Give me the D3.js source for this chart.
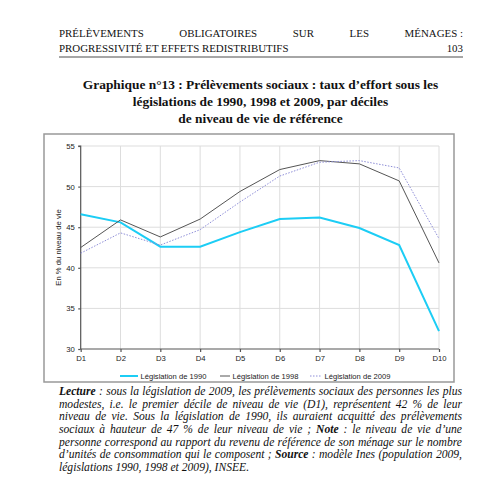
<!DOCTYPE html>
<html>
<head>
<meta charset="utf-8">
<script src="https://cdn.jsdelivr.net/npm/d3@7"></script>
<style>
  body { margin: 0; background: #fff; }
  svg { display: block; }
</style>
</head>
<body>
<div id="chart"></div>
<script>
// data
const deciles = ["D1", "D2", "D3", "D4", "D5", "D6", "D7", "D8", "D9", "D10"];
const leg1990 = [46.6, 45.6, 42.6, 42.6, 44.4, 46.0, 46.2, 44.9, 42.8, 32.2];
const leg1998 = [42.5, 45.9, 43.8, 46.0, 49.4, 52.1, 53.2, 52.8, 50.7, 40.6];
const leg2009 = [41.8, 44.3, 42.8, 44.7, 48.1, 51.3, 53.0, 53.2, 52.3, 43.6];
const yTicks = [30, 35, 40, 45, 50, 55];

const seriesNames = ["Législation de 1990", "Législation de 1998", "Législation de 2009"];
const seriesValues = [leg1990, leg1998, leg2009];

const titleLines = [
  "Graphique n°13 : Prélèvements sociaux : taux d’effort sous les",
  "législations de 1990, 1998 et 2009, par déciles",
  "de niveau de vie de référence"
];
const headerLine1 = ["PRÉLÈVEMENTS", "OBLIGATOIRES", "SUR", "LES", "MÉNAGES :"];
const headerLine2 = "PROGRESSIVITÉ ET EFFETS REDISTRIBUTIFS";
const pageNum = "103";
// words starting with * are bold
const noteLines = [
  "*Lecture : sous la législation de 2009, les prélèvements sociaux des personnes les plus",
  "modestes, i.e. le premier décile de niveau de vie (D1), représentent 42 % de leur",
  "niveau de vie. Sous la législation de 1990, ils auraient acquitté des prélèvements",
  "sociaux à hauteur de 47 % de leur niveau de vie ; *Note : le niveau de vie d’une",
  "personne correspond au rapport du revenu de référence de son ménage sur le nombre",
  "d’unités de consommation qui le composent ; *Source : modèle Ines (population 2009,",
  "législations 1990, 1998 et 2009), INSEE."
];

const W = 500, H = 487;
const serif = "'Liberation Serif', 'Times New Roman', serif";
const sans = "'Liberation Sans', Arial, sans-serif";

const svg = d3.select("#chart").append("svg")
  .attr("width", W).attr("height", H);

// spread words between x0 and x1 (justified text)
function justify(g, words, x0, x1, y, styleFn, spread) {
  const nodes = words.map(w => {
    const t = g.append("text").attr("y", y).text(w.replace(/^\*/, ""));
    styleFn(t, w.startsWith("*"));
    return t;
  });
  const widths = nodes.map(n => n.node().getComputedTextLength());
  const total = d3.sum(widths);
  let gap = spread ? (x1 - x0 - total) / (words.length - 1) : null;
  if (!spread) {
    const sp = g.append("text").text("a a");
    styleFn(sp, false);
    const a = g.append("text").text("aa");
    styleFn(a, false);
    gap = sp.node().getComputedTextLength() - a.node().getComputedTextLength();
    sp.remove(); a.remove();
  }
  let x = x0;
  nodes.forEach((n, i) => { n.attr("x", x); x += widths[i] + gap; });
}

// header
const head = svg.append("g");
justify(head, headerLine1, 59, 463, 37, t => t.attr("font-family", serif).attr("font-size", 10.9).attr("fill", "#111"), true);
head.append("text").attr("x", 59).attr("y", 52)
  .attr("font-family", serif).attr("font-size", 10.9).attr("fill", "#111")
  .text(headerLine2);
head.append("text").attr("x", 463).attr("y", 52).attr("text-anchor", "end")
  .attr("font-family", serif).attr("font-size", 10.9).attr("fill", "#111")
  .text(pageNum);
head.append("line").attr("x1", 59).attr("x2", 463).attr("y1", 57).attr("y2", 57)
  .attr("stroke", "#888").attr("stroke-width", 1.5);

// title
svg.append("g").selectAll("text").data(titleLines).join("text")
  .attr("x", 260.5).attr("y", (d, i) => 89 + i * 16.8)
  .attr("text-anchor", "middle")
  .attr("font-family", serif).attr("font-weight", "bold").attr("font-size", 13.4)
  .attr("fill", "#111")
  .text(d => d);

// frame
svg.append("rect").attr("x", 44).attr("y", 134).attr("width", 410).attr("height", 248)
  .attr("fill", "none").attr("stroke", "#999").attr("stroke-width", 1.5);

// plot
const x = d3.scalePoint().domain(deciles).range([80.7, 439]);
const y = d3.scaleLinear().domain([30, 55]).range([349, 146]);

const grid = svg.append("g");
grid.selectAll(".gy").data(yTicks.slice(1)).join("line")
  .attr("x1", x.range()[0]).attr("x2", x.range()[1])
  .attr("y1", d => y(d)).attr("y2", d => y(d))
  .attr("stroke", "#ddd").attr("stroke-width", 1);
grid.selectAll(".gx").data(deciles.slice(1)).join("line")
  .attr("x1", d => x(d)).attr("x2", d => x(d))
  .attr("y1", y(30)).attr("y2", y(55))
  .attr("stroke", "#ddd").attr("stroke-width", 1);

const yAxis = svg.append("g").attr("transform", `translate(${x.range()[0]},0)`)
  .call(d3.axisLeft(y).tickValues(yTicks).tickSize(2.5).tickPadding(3.5));
const xAxis = svg.append("g").attr("transform", `translate(0,${y(30)})`)
  .call(d3.axisBottom(x).tickSize(3).tickPadding(4));
[yAxis, xAxis].forEach(a => {
  a.selectAll("path, line").attr("stroke", "#555").attr("stroke-width", 1.2);
  a.selectAll("text").attr("font-family", sans).attr("font-size", 7.7).attr("fill", "#222");
  a.select(".domain").attr("d", a === yAxis ? `M-2.5,${y(55)}H0V${y(30)}` : `M${x.range()[0]},0H${x.range()[1]}`);
});

svg.append("text")
  .attr("transform", `translate(61,${(y(30) + y(55)) / 2}) rotate(-90)`)
  .attr("text-anchor", "middle")
  .attr("font-family", sans).attr("font-size", 7.7)
  .attr("fill", "#222")
  .text("En % du niveau de vie");

const styles = [
  { stroke: "#1ccdf5", width: 2, dash: null },
  { stroke: "#555", width: 1, dash: null },
  { stroke: "#8e8ed8", width: 1, dash: "1.5,1.5" }
];

const line = d3.line().x((d, i) => x(deciles[i])).y(d => y(d));
svg.append("g").selectAll("path").data(seriesValues).join("path")
  .attr("d", d => line(d))
  .attr("fill", "none")
  .attr("stroke", (d, i) => styles[i].stroke)
  .attr("stroke-width", (d, i) => styles[i].width)
  .attr("stroke-dasharray", (d, i) => styles[i].dash);

// legend
const legX = [120, 220, 310];
const legW = [18, 10, 12];
const leg = svg.append("g").selectAll("g").data(seriesNames).join("g")
  .attr("transform", (d, i) => `translate(${legX[i]},376)`);
leg.append("line").attr("x1", 0).attr("x2", (d, i) => legW[i]).attr("y1", 0).attr("y2", 0)
  .attr("stroke", (d, i) => styles[i].stroke)
  .attr("stroke-width", (d, i) => styles[i].width)
  .attr("stroke-dasharray", (d, i) => styles[i].dash);
leg.append("text").attr("x", (d, i) => legW[i] + 2.5).attr("y", 2.7)
  .attr("font-family", sans).attr("font-size", 7.6).attr("fill", "#222")
  .text(d => d);

// note under the chart
const note = svg.append("g");
noteLines.forEach((l, i) => {
  justify(note, l.split(" "), 59, 462, 395 + i * 12.65,
    (t, b) => t.attr("font-family", serif).attr("font-style", "italic")
      .attr("font-weight", b ? "bold" : "normal").attr("font-size", 11.6).attr("fill", "#111"),
    i < noteLines.length - 1);
});
</script>
</body>
</html>
